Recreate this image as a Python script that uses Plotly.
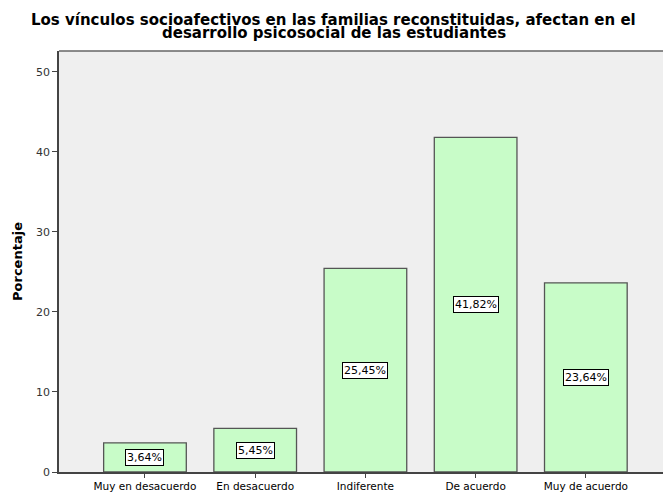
import plotly.graph_objects as go

categorias = ["Muy en desacuerdo", "En desacuerdo", "Indiferente", "De acuerdo", "Muy de acuerdo"]
porcentajes = [3.64, 5.45, 25.45, 41.82, 23.64]
etiquetas = ["3,64%", "5,45%", "25,45%", "41,82%", "23,64%"]
titulo = ["Los vínculos socioafectivos en las familias reconstituidas, afectan en el",
          "desarrollo psicosocial de las estudiantes"]

fig = go.Figure()
fig.add_trace(go.Bar(
    x=list(range(len(categorias))),
    y=porcentajes,
    width=0.75,
    marker=dict(color="#C8FCC8", line=dict(color="#555555", width=1.3)),
    hoverinfo="y",
))

for i, (v, t) in enumerate(zip(porcentajes, etiquetas)):
    fig.add_annotation(
        x=i, y=v / 2, text=t, showarrow=False,
        font=dict(family="DejaVu Sans", size=11, color="#000000"),
        bgcolor="#FFFFFF", bordercolor="#000000", borderwidth=1, borderpad=1,
    )

# title as two tight lines
for linea, yy in zip(titulo, [1.0736, 1.0428]):
    fig.add_annotation(
        xref="paper", yref="paper", x=0.455, y=yy, text=linea, showarrow=False,
        xanchor="center", yanchor="middle",
        font=dict(family="DejaVu Sans", size=15, color="#000000", weight="bold"),
    )

fig.update_layout(
    width=663, height=492,
    margin=dict(l=59, r=0, t=51, b=20, autoexpand=False),
    paper_bgcolor="#FFFFFF",
    plot_bgcolor="#EFEFEF",
    showlegend=False,
    xaxis=dict(
        range=[-0.78, 4.7],
        automargin=False,
        tickmode="array", tickvals=list(range(len(categorias))), ticktext=categorias,
        ticks="outside", ticklen=4, tickcolor="#444444",
        showline=True, linecolor="#444444", linewidth=1.5,
        showgrid=False, zeroline=False,
        tickfont=dict(family="DejaVu Sans", size=10.5, color="#000000"),
    ),
    yaxis=dict(
        range=[0, 52.6],
        automargin=False,
        tickvals=[0, 10, 20, 30, 40, 50],
        ticks="outside", ticklen=5, tickcolor="#444444",
        showline=True, linecolor="#444444", linewidth=1.5,
        showgrid=False, zeroline=False,
        tickfont=dict(family="DejaVu Sans", size=11, color="#333333"),
        title=dict(text="<b>Porcentaje</b>", standoff=10,
                   font=dict(family="DejaVu Sans", size=13, color="#000000")),
    ),
)

# top border of the plot area
fig.add_shape(type="line", xref="paper", yref="paper", x0=0, x1=1, y0=1, y1=1,
              line=dict(color="#666666", width=1.5))

fig.write_html("out.html", config={"displayModeBar": False},
               post_script="document.body.style.margin='0';document.body.style.overflow='hidden';window.scrollTo(0,0);")
